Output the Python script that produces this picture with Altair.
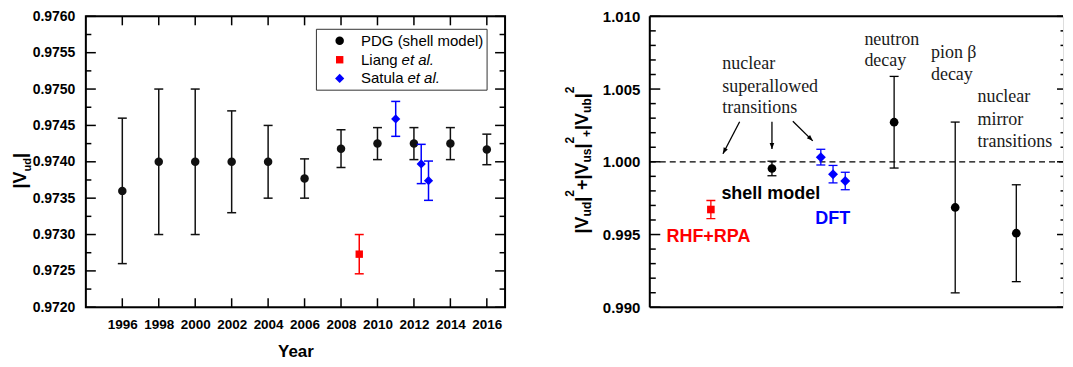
import altair as alt
import pandas as pd

# ---------------- left panel: |Vud| versus year ----------------
pdg_year = [1996, 1998, 2000, 2002, 2004, 2006, 2008, 2010, 2012, 2014, 2016]
pdg_vud = [0.97360, 0.97400, 0.97400, 0.97400, 0.97400, 0.97377, 0.97418, 0.97425, 0.97425, 0.97425, 0.97417]
pdg_err = [0.00100, 0.00100, 0.00100, 0.00070, 0.00050, 0.00027, 0.00026, 0.00022, 0.00022, 0.00022, 0.00021]

liang_year = [2009]
liang_vud = [0.97273]
liang_err = [0.00027]

satula_year = [2011.0, 2012.4, 2012.8]
satula_vud = [0.97459, 0.97397, 0.97374]
satula_err = [0.00024, 0.00027, 0.00027]

year_ticks = [1996, 1998, 2000, 2002, 2004, 2006, 2008, 2010, 2012, 2014, 2016]
vud_ticks = [0.9720, 0.9725, 0.9730, 0.9735, 0.9740, 0.9745, 0.9750, 0.9755, 0.9760]
vud_minor = [0.97225, 0.97275, 0.97325, 0.97375, 0.97425, 0.97475, 0.97525, 0.97575]

legend_labels = ["PDG (shell model)", "Liang", "Satula"]

# ---------------- right panel: unitarity sum ----------------
rhf_pos = [1.0]
rhf_sum = [0.99672]
rhf_err = [0.00062]

shell_pos = [2.0]
shell_sum = [0.99954]
shell_err = [0.00050]

dft_pos = [2.8, 3.0, 3.2]
dft_sum = [1.00032, 0.99915, 0.99868]
dft_err = [0.00054, 0.00060, 0.00060]

other_pos = [4.0, 5.0, 6.0]
other_sum = [1.00272, 0.99686, 0.99509]
other_err = [0.00315, 0.00587, 0.00333]

sum_ticks = [0.990, 0.995, 1.000, 1.005, 1.010]
sum_minor = [0.991, 0.992, 0.993, 0.994, 0.996, 0.997, 0.998, 0.999,
             1.001, 1.002, 1.003, 1.004, 1.006, 1.007, 1.008, 1.009]

ann_text = ["nuclear", "superallowed", "transitions", "neutron", "decay",
            "pion β", "decay", "nuclear", "mirror", "transitions"]
ann_x = [1.188, 1.188, 1.188, 3.513, 3.513, 4.603, 4.603, 5.364, 5.364, 5.364]
ann_y = [1.00638, 1.00480, 1.00335, 1.00806, 1.00660, 1.00716, 1.00559, 1.00413, 1.00256, 1.00100]

arrow_x1 = [1.471, 2.0, 2.342]
arrow_y1 = [1.00275, 1.00275, 1.00279]
arrow_x2 = [1.198, 2.0, 2.668]
arrow_y2 = [1.00055, 1.00088, 1.00144]
arrow_ang = [27, 0, 315]

SANS = "Liberation Sans"
SERIF = "Liberation Serif"
BLACK = "#000000"
RED = "#ff0000"
BLUE = "#0000ff"

W1, W2, H = 420, 414, 291.5
one = pd.DataFrame({"a": [0]})

# Liberation Sans Bold advance widths (em)
ADV = {"|": 0.280, "V": 0.667, "u": 0.611, "d": 0.611, "s": 0.556, "b": 0.611, "2": 0.556, "+": 0.584}

# ---------------- axes (identical objects used by every layer of a panel) ----------------
AX1 = alt.Axis(values=year_ticks, format="d", ticks=False, domain=False, grid=False,
               labelFont=SANS, labelFontWeight="bold", labelFontSize=13.5, labelColor=BLACK,
               labelPadding=10, labelFlush=False, labelOverlap=False,
               title="Year", titleFont=SANS, titleFontWeight="bold", titleFontSize=17,
               titleColor=BLACK, titlePadding=13)
AY1 = alt.Axis(values=vud_ticks, format=".4f", ticks=False, domain=False, grid=False,
               labelFont=SANS, labelFontWeight="bold", labelFontSize=14, labelColor=BLACK,
               labelPadding=11, labelFlush=False, labelOverlap=False, title=None)
AY2 = alt.Axis(values=sum_ticks, format=".3f", ticks=False, domain=False, grid=False,
               labelFont=SANS, labelFontWeight="bold", labelFontSize=15, labelColor=BLACK,
               labelPadding=10, labelFlush=False, labelOverlap=False, title=None)
AX2 = None


def rotated_title(segs, xb, y0):
    layers = []
    y = y0
    for text, fs, dx in segs:
        layers.append(
            alt.Chart(one).mark_text(text=text, font=SANS, fontWeight="bold", fontSize=fs,
                                     angle=270, align="left", baseline="alphabetic", color=BLACK)
            .encode(x=alt.value(xb + dx), y=alt.value(y)))
        y -= sum(ADV[c] for c in text) * fs
    return layers


def series(xv, vv, ev, color, shape, size, xs, ys, ax, ay, cap, sw):
    df = pd.DataFrame({"x": xv, "v": vv,
                       "lo": [a - b for a, b in zip(vv, ev)],
                       "hi": [a + b for a, b in zip(vv, ev)]})
    X = alt.X("x:Q", scale=xs, axis=ax)
    bar = alt.Chart(df).mark_rule(color=color, strokeWidth=sw).encode(
        x=X, y=alt.Y("lo:Q", scale=ys, axis=ay), y2="hi:Q")
    c1 = alt.Chart(df).mark_tick(color=color, orient="horizontal", size=cap, thickness=sw, opacity=1).encode(
        x=X, y=alt.Y("lo:Q", scale=ys, axis=ay))
    c2 = alt.Chart(df).mark_tick(color=color, orient="horizontal", size=cap, thickness=sw, opacity=1).encode(
        x=X, y=alt.Y("hi:Q", scale=ys, axis=ay))
    pt = alt.Chart(df).mark_point(shape=shape, filled=True, size=size, color=color, opacity=1).encode(
        x=X, y=alt.Y("v:Q", scale=ys, axis=ay))
    return [bar, c1, c2, pt]


def yticks(vals, ys, ay, x1, x2, sw=1.5):
    return alt.Chart(pd.DataFrame({"t": vals})).mark_rule(color=BLACK, strokeWidth=sw).encode(
        y=alt.Y("t:Q", scale=ys, axis=ay), x=alt.value(x1), x2=alt.value(x2))


def xticks(vals, xs, ax, y1, y2, sw=1.5):
    return alt.Chart(pd.DataFrame({"t": vals})).mark_rule(color=BLACK, strokeWidth=sw).encode(
        x=alt.X("t:Q", scale=xs, axis=ax), y=alt.value(y1), y2=alt.value(y2))


# ======================= LEFT PANEL =======================
xs1 = alt.Scale(domain=[1994, 2017], nice=False, zero=False)
ys1 = alt.Scale(domain=[0.9720, 0.9760], nice=False, zero=False)

frame1 = alt.Chart(one).mark_rect(fillOpacity=0, stroke=BLACK, strokeWidth=2).encode(
    x=alt.value(0), x2=alt.value(W1), y=alt.value(0), y2=alt.value(H))

anchor = alt.Chart(one).mark_rule(color="white", strokeWidth=1).encode(
    x=alt.value(-76.5), x2=alt.value(-76.5), y=alt.value(100), y2=alt.value(101))

left_layers = [anchor, frame1,
               yticks(vud_ticks, ys1, AY1, 0, 10), yticks(vud_minor, ys1, AY1, 0, 5.5),
               yticks(vud_ticks, ys1, AY1, W1 - 10, W1), yticks(vud_minor, ys1, AY1, W1 - 5.5, W1),
               xticks(year_ticks, xs1, AX1, H, H - 9), xticks(year_ticks, xs1, AX1, 0, 9)]
left_layers += series(pdg_year, pdg_vud, pdg_err, "#111111", "circle", 72, xs1, ys1, AX1, AY1, 9, 1.5)
left_layers += series(liang_year, liang_vud, liang_err, RED, "square", 55, xs1, ys1, AX1, AY1, 9, 1.5)
left_layers += series(satula_year, satula_vud, satula_err, BLUE, "diamond", 85, xs1, ys1, AX1, AY1, 9, 1.5)

# legend box
left_layers.append(alt.Chart(one).mark_rect(fill="white", stroke="#333333", strokeWidth=1).encode(
    x=alt.value(231), x2=alt.value(402), y=alt.value(13), y2=alt.value(74)))
leg_rows = [24.5, 43.5, 62.2]
for (shape, color, size), yy in zip([("circle", BLACK, 72), ("square", RED, 55), ("diamond", BLUE, 85)], leg_rows):
    left_layers.append(alt.Chart(one).mark_point(shape=shape, filled=True, size=size, color=color, opacity=1)
                       .encode(x=alt.value(254.3), y=alt.value(yy)))
for lab, yy in zip(legend_labels, leg_rows):
    left_layers.append(alt.Chart(one).mark_text(text=lab, font=SANS, fontSize=15, align="left",
                                                baseline="middle", color=BLACK)
                       .encode(x=alt.value(275.7), y=alt.value(yy)))
for xx, yy in [(316.3, leg_rows[1]), (322.2, leg_rows[2])]:
    left_layers.append(alt.Chart(one).mark_text(text="et al.", font=SANS, fontSize=15, fontStyle="italic",
                                                align="left", baseline="middle", color=BLACK)
                       .encode(x=alt.value(xx), y=alt.value(yy)))

# y title |V_ud|
left_layers += rotated_title([("|V", 18, 0), ("ud", 11, 5), ("|", 18, 0)], -60, 172.5)

left = alt.layer(*left_layers).properties(width=W1, height=H)

# ======================= RIGHT PANEL =======================
xs2 = alt.Scale(domain=[0, W2 / 61.2], nice=False, zero=False)
ys2 = alt.Scale(domain=[0.990, 1.010], nice=False, zero=False)

right_layers = [alt.Chart(one).mark_rule(color=BLACK, strokeWidth=2).encode(
                    x=alt.value(0), x2=alt.value(W2), y=alt.value(0)),
                alt.Chart(one).mark_rule(color=BLACK, strokeWidth=2).encode(
                    x=alt.value(0), x2=alt.value(W2), y=alt.value(H)),
                alt.Chart(one).mark_rule(color=BLACK, strokeWidth=2).encode(
                    x=alt.value(0), y=alt.value(0), y2=alt.value(H)),
                yticks(sum_ticks, ys2, AY2, 0, 10.5), yticks(sum_minor, ys2, AY2, 0, 6),
                yticks(sum_ticks, ys2, AY2, W2 - 6, W2), yticks(sum_minor, ys2, AY2, W2 - 2.5, W2)]

right_layers.append(alt.Chart(pd.DataFrame({"v": [1.0]})).mark_rule(
    color=BLACK, strokeWidth=1.3, strokeDash=[6, 4]).encode(
    y=alt.Y("v:Q", scale=ys2, axis=AY2), x=alt.value(0), x2=alt.value(W2)))

right_layers += series(rhf_pos, rhf_sum, rhf_err, RED, "square", 58, xs2, ys2, AX2, AY2, 9, 1.3)
right_layers += series(shell_pos, shell_sum, shell_err, BLACK, "circle", 76, xs2, ys2, AX2, AY2, 9, 1.3)
right_layers += series(dft_pos, dft_sum, dft_err, BLUE, "diamond", 100, xs2, ys2, AX2, AY2, 9, 1.3)
right_layers += series(other_pos, other_sum, other_err, BLACK, "circle", 76, xs2, ys2, AX2, AY2, 9, 1.3)

ann_df = pd.DataFrame({"x": ann_x, "y": ann_y, "t": ann_text})
right_layers.append(alt.Chart(ann_df).mark_text(font=SERIF, fontSize=18, align="left",
                                                baseline="alphabetic", color="#1a1a1a").encode(
    x=alt.X("x:Q", scale=xs2, axis=AX2), y=alt.Y("y:Q", scale=ys2, axis=AY2), text="t:N"))

arr_df = pd.DataFrame({"x1": arrow_x1, "y1": arrow_y1, "x2": arrow_x2, "y2": arrow_y2, "ang": arrow_ang})
right_layers.append(alt.Chart(arr_df).mark_rule(color=BLACK, strokeWidth=1.3).encode(
    x=alt.X("x1:Q", scale=xs2, axis=AX2), y=alt.Y("y1:Q", scale=ys2, axis=AY2),
    x2="x2:Q", y2="y2:Q"))
right_layers.append(alt.Chart(arr_df).mark_point(
    shape="M0,0L-0.38,-1L0.38,-1Z", filled=True, size=150, color=BLACK, opacity=1).encode(
    x=alt.X("x2:Q", scale=xs2, axis=AX2), y=alt.Y("y2:Q", scale=ys2, axis=AY2),
    angle=alt.Angle("ang:Q", scale=None)))

for txt, xx, yy, col in [("shell model", 1.172, 0.99745, BLACK), ("DFT", 2.708, 0.99572, BLUE),
                         ("RHF+RPA", 0.273, 0.99449, RED)]:
    right_layers.append(alt.Chart(pd.DataFrame({"x": [xx], "y": [yy]})).mark_text(
        text=txt, font=SANS, fontWeight="bold", fontSize=18, align="left",
        baseline="alphabetic", color=col).encode(
        x=alt.X("x:Q", scale=xs2, axis=AX2), y=alt.Y("y:Q", scale=ys2, axis=AY2)))

right_layers += rotated_title(
    [("|V", 18, 0), ("ud", 12, 3), ("|", 18, 0), ("2", 12, -14), ("+", 18, 0),
     ("|V", 18, 0), ("us", 12, 3), ("|", 18, 0), ("2", 12, -14), ("+", 12, 3),
     ("|V", 18, 0), ("ub", 12, 3), ("|", 18, 0), ("2", 12, -14)],
    -62, 217.5)

right = alt.layer(*right_layers).properties(width=W2, height=H)

chart = alt.hconcat(left, right, spacing=145, bounds="flush").properties(
    padding=0).configure_view(strokeWidth=0).configure(font=SANS)

chart.save("out.html", embed_options={"renderer": "svg", "actions": False})
